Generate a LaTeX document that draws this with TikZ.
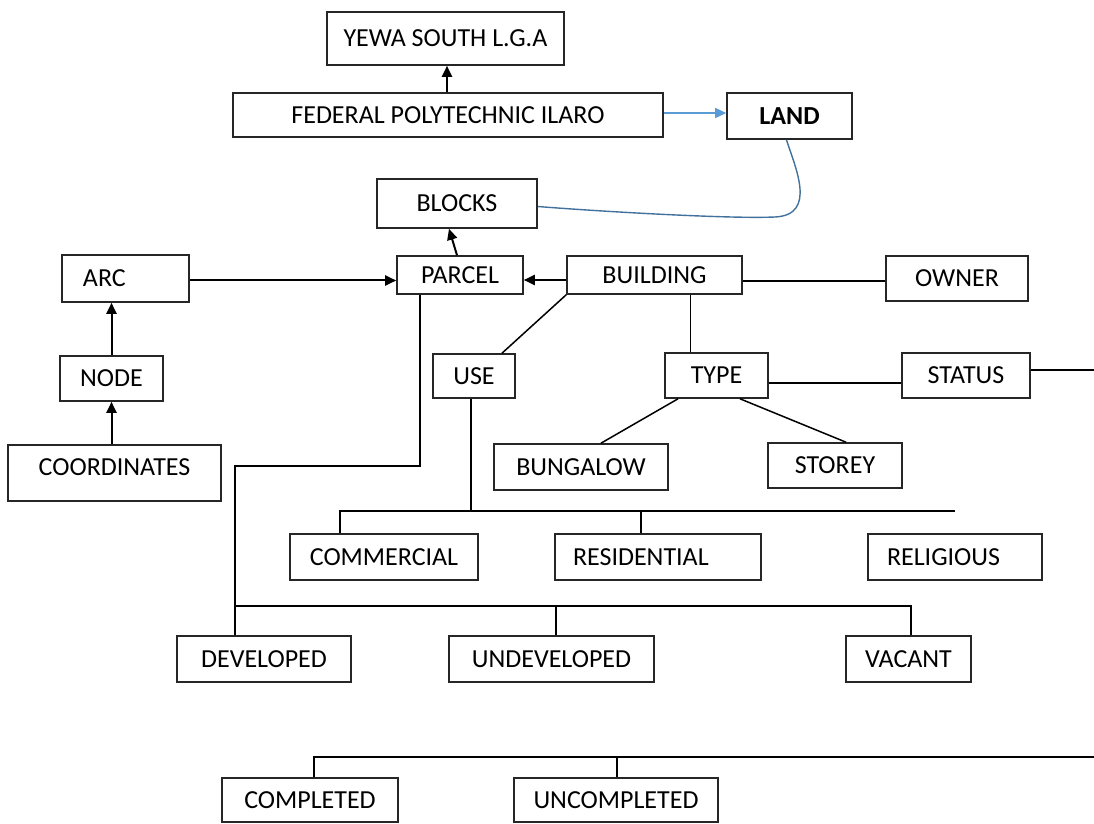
\documentclass[tikz,border=0pt]{standalone}
\usepackage{fontspec}
\setmainfont{Carlito}
\usetikzlibrary{arrows.meta,positioning}
\definecolor{linkblue}{RGB}{91,155,213}
\definecolor{curveblue}{RGB}{65,113,156}

\begin{document}
\begin{tikzpicture}[x=0.5pt,y=-0.5pt,>={Triangle[length=5.5pt,width=5pt]},font=\fontsize{13}{15}\selectfont]
		\tikzstyle{box}=[draw=black!85,line width=0.8pt,rectangle,inner sep=2pt]
		\tikzset{sz/.style 2 args={minimum width=#1pt,minimum height=#2pt}}
		\tikzstyle{link}=[line width=0.75pt]
		\tikzstyle{arrow}=[->,line width=1pt]

		\useasboundingbox (0,0) rectangle (1094,824);

		\node[box,sz={118.5}{26.5}] (yewa) at (445.5,38.5) {YEWA SOUTH L.G.A};
		\node[box,sz={215}{22}] (fed) at (448,115) {FEDERAL POLYTECHNIC ILARO};
		\node[box,sz={62.5}{23},font=\fontsize{13}{15}\selectfont\bfseries] (land) at (789.5,116) {LAND};
		\node[box,sz={80}{24.5}] (blocks) at (457,203.5) {BLOCKS};
		\node[box,sz={63.5}{23.5},text width=42.5pt,inner xsep=10.5pt,align=left] (arc) at (125.5,278.5) {ARC};
		\node[box,sz={63}{19}] (parcel) at (460,275) {PARCEL};
		\node[box,sz={87.5}{19}] (building) at (654.5,275) {BUILDING};
		\node[box,sz={71}{22.5}] (owner) at (957,278.5) {OWNER};
		\node[box,sz={51.5}{22.5}] (node) at (111.5,378.5) {NODE};
		\node[box,sz={41}{22}] (use) at (474,376) {USE};
		\node[box,sz={51.5}{22.5}] (type) at (716.5,375.5) {TYPE};
		\node[box,sz={64}{22.5}] (status) at (966,375.5) {STATUS};
		\node[box,sz={106.5}{28},text depth=6pt] (coord) at (114.5,473) {COORDINATES};
		\node[box,sz={87}{23}] (bungalow) at (581,467) {BUNGALOW};
		\node[box,sz={67}{22.5}] (storey) at (835,465.5) {STOREY};
		\node[box,sz={94}{23}] (commercial) at (384,557) {COMMERCIAL};
		\node[box,sz={103}{23},text width=85pt,inner xsep=9pt,align=left] (residential) at (658,557) {RESIDENTIAL};
		\node[box,sz={87}{23},text width=68pt,inner xsep=9.5pt,align=left] (religious) at (955,557) {RELIGIOUS};
		\node[box,sz={87}{23}] (developed) at (264,659) {DEVELOPED};
		\node[box,sz={102.5}{23}] (undeveloped) at (551.5,659) {UNDEVELOPED};
		\node[box,sz={62.5}{23}] (vacant) at (908.5,659) {VACANT};
		\node[box,sz={88}{22}] (completed) at (310,800) {COMPLETED};
		\node[box,sz={102}{22}] (uncompleted) at (616,800) {UNCOMPLETED};

		\coordinate (bend) at (775,217);
		\coordinate (statusend) at (1094,370);
		\coordinate (statbarend) at (1094,757);

		% top part
		\draw[arrow] ([xshift=-0.5pt]fed.north) -- ([xshift=-0.5pt]fed.north |- yewa.south);
		\draw[->,linkblue,line width=0.8pt] ([yshift=1pt]fed.east) -- ([yshift=1pt]fed.east -| land.west);
		\draw[curveblue,line width=0.7pt] ([xshift=-1.5pt]land.south) .. controls +(8,26) and +(43,-2) .. (bend)
			.. controls +(-45,2) and +(63,5) .. ([yshift=-1.5pt]blocks.east);
		\draw[arrow] ([xshift=-1.5pt]parcel.north) -- ([xshift=-4pt]blocks.south);

		% parcel row
		\draw[arrow] ([yshift=-1pt]arc.east) -- ([yshift=-1pt]arc.east -| parcel.west);
		\draw[arrow] ([yshift=-2.5pt]building.west) -- ([yshift=-2.5pt]building.west -| parcel.east);
		\draw[link] ([yshift=-3pt]building.east) -- ([yshift=-3pt]building.east -| owner.west);
		\draw[arrow] (node.north) -- (node.north |- arc.south);
		\draw[arrow] (coord.north -| node.south) -- (node.south);

		% building
		\draw[link] (building.south west) -- ([xshift=14pt]use.north);
		\draw[link] ([xshift=18pt]building.south) -- ([xshift=18pt]building.south |- type.north);
		\draw[link] ([yshift=-3.75pt]type.east) -- ([yshift=-3.75pt]type.east -| status.west);
		\draw[link] ([yshift=2.75pt]status.east) -- (statusend);
		\draw[link] ([xshift=-19.25pt]type.south) -- ([xshift=10pt]bungalow.north);
		\draw[link] ([xshift=11.75pt]type.south) -- ([xshift=5.5pt]storey.north);

		% use
		\draw[link] ([xshift=-22pt]commercial.north) -- ++(0,-22) coordinate (usebar) -- (usebar -| religious.north);
		\draw[link] ([xshift=-1.5pt]use.south) -- ([xshift=-1.5pt]use.south |- usebar);
		\draw[link] ([xshift=-8.5pt]residential.north) -- ([xshift=-8.5pt]residential.north |- usebar);

		% parcel development
		\draw[link] ([xshift=-20pt]parcel.south) -- ++(0,171) -| ([xshift=-14.5pt]developed.north);
		\draw[link] ([xshift=-14.5pt]developed.north) ++(0,-29) coordinate (devbar) -| ([xshift=1.25pt]vacant.north);
		\draw[link] ([xshift=2.25pt]undeveloped.north) -- ([xshift=2.25pt]undeveloped.north |- devbar);

		% status
		\draw[link] ([xshift=2pt]completed.north) |- (statbarend);
		\draw[link] ([xshift=0.5pt]uncompleted.north) -- ([xshift=0.5pt]uncompleted.north |- statbarend);
	\end{tikzpicture}
\end{document}
